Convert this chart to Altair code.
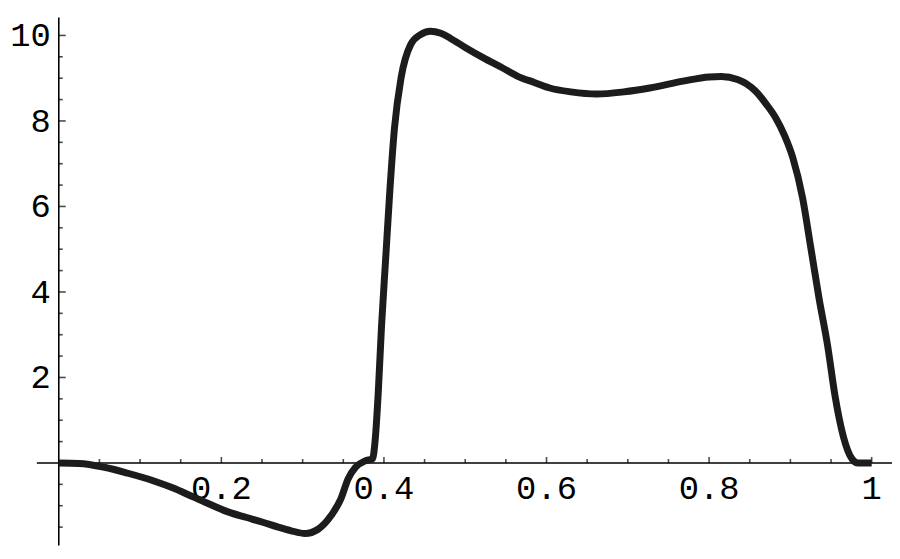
import altair as alt
import pandas as pd

# ---- data ----
curve_x = [0.000, 0.025, 0.056, 0.085, 0.117, 0.140, 0.166, 0.190, 0.209, 0.230,
           0.250, 0.270, 0.285, 0.303, 0.319, 0.335, 0.347, 0.356, 0.365, 0.377,
           0.386, 0.389, 0.393, 0.397, 0.402, 0.407, 0.413, 0.421, 0.433, 0.445,
           0.457, 0.470, 0.482, 0.500, 0.523, 0.545, 0.564, 0.585, 0.604, 0.630,
           0.662, 0.695, 0.727, 0.768, 0.800, 0.815, 0.835, 0.857, 0.870, 0.882,
           0.893, 0.903, 0.915, 0.925, 0.935, 0.946, 0.955, 0.965, 0.976, 0.983,
           1.000]
curve_y = [0.00, -0.01, -0.10, -0.24, -0.42, -0.58, -0.80, -1.00, -1.15, -1.27,
           -1.38, -1.50, -1.58, -1.65, -1.55, -1.23, -0.84, -0.37, -0.10, 0.05,
           0.10, 0.49, 1.65, 3.19, 4.74, 6.29, 7.84, 9.00, 9.79, 10.02,
           10.10, 10.05, 9.93, 9.72, 9.47, 9.25, 9.05, 8.90, 8.77, 8.68,
           8.63, 8.68, 8.77, 8.93, 9.03, 9.04, 8.97, 8.70, 8.40, 8.07,
           7.65, 7.14, 6.20, 5.05, 3.88, 2.72, 1.56, 0.63, 0.09, 0.00,
           0.00]

x_major = [0.2, 0.4, 0.6, 0.8, 1.0]
x_labels = ["0.2", "0.4", "0.6", "0.8", "1"]
x_minor = [0.05, 0.10, 0.15, 0.25, 0.30, 0.35, 0.45, 0.50, 0.55,
           0.65, 0.70, 0.75, 0.85, 0.90, 0.95]
y_major = [2, 4, 6, 8, 10]
y_labels = ["2", "4", "6", "8", "10"]
y_minor = [-1.5, -1.0, -0.5, 0.5, 1.0, 1.5, 2.5, 3.0, 3.5, 4.5, 5.0, 5.5,
           6.5, 7.0, 7.5, 8.5, 9.0, 9.5]

X_DOMAIN = [-0.027, 1.025]
Y_DOMAIN = [-1.93, 10.42]

INK = "#1c1c1c"
FONT = "Liberation Mono"

xs = alt.Scale(domain=X_DOMAIN, nice=False, zero=False)
ys = alt.Scale(domain=Y_DOMAIN, nice=False, zero=False)

curve_df = pd.DataFrame({"x": curve_x, "y": curve_y})
xmaj_df = pd.DataFrame({"v": x_major, "lab": x_labels})
xmin_df = pd.DataFrame({"v": x_minor})
ymaj_df = pd.DataFrame({"v": y_major, "lab": y_labels})
ymin_df = pd.DataFrame({"v": y_minor})
base_df = pd.DataFrame({"d": [0]})

x_axis_line = alt.Chart(base_df).mark_rule(color="black", strokeWidth=1.6).encode(
    x=alt.datum(X_DOMAIN[0], scale=xs, axis=None),
    x2=alt.datum(X_DOMAIN[1]),
    y=alt.datum(0, scale=ys, axis=None),
)
y_axis_line = alt.Chart(base_df).mark_rule(color="black", strokeWidth=1.6).encode(
    y=alt.datum(Y_DOMAIN[0], scale=ys, axis=None),
    y2=alt.datum(Y_DOMAIN[1]),
    x=alt.datum(0, scale=xs, axis=None),
)

x_major_ticks = alt.Chart(xmaj_df).mark_tick(
    orient="vertical", thickness=1.6, color="black", yOffset=-3
).encode(
    x=alt.X("v:Q", scale=xs, axis=None),
    y=alt.datum(0, scale=ys, axis=None),
    size=alt.value(6),
)
x_minor_ticks = alt.Chart(xmin_df).mark_tick(
    orient="vertical", thickness=1.6, color="black", yOffset=-2
).encode(
    x=alt.X("v:Q", scale=xs, axis=None),
    y=alt.datum(0, scale=ys, axis=None),
    size=alt.value(4),
)
y_major_ticks = alt.Chart(ymaj_df).mark_tick(
    orient="horizontal", thickness=1.6, color="black", xOffset=3.5
).encode(
    y=alt.Y("v:Q", scale=ys, axis=None),
    x=alt.datum(0, scale=xs, axis=None),
    size=alt.value(7),
)
y_minor_ticks = alt.Chart(ymin_df).mark_tick(
    orient="horizontal", thickness=1.6, color="black", xOffset=2
).encode(
    y=alt.Y("v:Q", scale=ys, axis=None),
    x=alt.datum(0, scale=xs, axis=None),
    size=alt.value(4),
)

x_text = alt.Chart(xmaj_df).mark_text(
    align="center", baseline="alphabetic", dy=36, font=FONT, fontSize=34, color="black"
).encode(
    x=alt.X("v:Q", scale=xs, axis=None),
    y=alt.datum(0, scale=ys, axis=None),
    text="lab:N",
)
y_text = alt.Chart(ymaj_df).mark_text(
    align="right", baseline="alphabetic", dx=-8, dy=11, font=FONT, fontSize=34, color="black"
).encode(
    y=alt.Y("v:Q", scale=ys, axis=None),
    x=alt.datum(0, scale=xs, axis=None),
    text="lab:N",
)

curve = alt.Chart(curve_df).mark_line(
    color=INK, strokeWidth=7, interpolate="monotone", strokeJoin="round", strokeCap="butt"
).encode(
    x=alt.X("x:Q", scale=xs, axis=None),
    y=alt.Y("y:Q", scale=ys, axis=None),
)

chart = alt.layer(
    x_axis_line, y_axis_line, x_major_ticks, x_minor_ticks, y_major_ticks, y_minor_ticks,
    x_text, y_text, curve
).properties(
    width=860, height=531,
    autosize=alt.AutoSizeParams(type="none"),
    padding={"left": 29, "top": 8, "right": 0, "bottom": 4},
    background="white",
).configure_view(stroke=None)

chart.save("out.html", embed_options={"renderer": "svg", "actions": False})
